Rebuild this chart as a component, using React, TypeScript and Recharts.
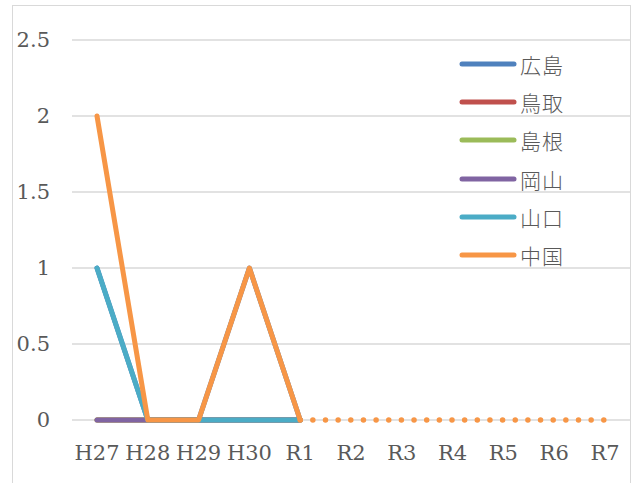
import React from 'react';
import { LineChart, Line, XAxis, YAxis, CartesianGrid } from 'recharts';

const years = ['H27', 'H28', 'H29', 'H30', 'R1', 'R2', 'R3', 'R4', 'R5', 'R6', 'R7'];

// actual values H27..R1, null afterwards
const hiroshima = [1, 0, 0, 1, 0, null, null, null, null, null, null];
const tottori = [0, 0, 0, 0, 0, null, null, null, null, null, null];
const shimane = [0, 0, 0, 0, 0, null, null, null, null, null, null];
const okayama = [0, 0, 0, 0, 0, null, null, null, null, null, null];
const yamaguchi = [1, 0, 0, 0, 0, null, null, null, null, null, null];
const chugoku = [2, 0, 0, 1, 0, null, null, null, null, null, null];
// projection for 中国 from R1 on (dotted)
const chugokuPlan = [null, null, null, null, 0, 0, 0, 0, 0, 0, 0];

const yTicks = [0, 0.5, 1, 1.5, 2, 2.5];

const series = [
  { key: 'hiroshima', name: '広島', color: '#4F81BD', values: hiroshima },
  { key: 'tottori', name: '鳥取', color: '#C0504D', values: tottori },
  { key: 'shimane', name: '島根', color: '#9BBB59', values: shimane },
  { key: 'okayama', name: '岡山', color: '#8064A2', values: okayama },
  { key: 'yamaguchi', name: '山口', color: '#4BACC6', values: yamaguchi },
  { key: 'chugoku', name: '中国', color: '#F79646', values: chugoku },
];

const data = years.map((y, i) => {
  const row: Record<string, any> = { year: y, chugokuPlan: chugokuPlan[i] };
  series.forEach(s => { row[s.key] = s.values[i]; });
  return row;
});

const serif = '"DejaVu Serif", serif';
const jp = '"Noto Sans CJK JP", sans-serif';

const LegendBox = () => (
  <div style={{ position: 'absolute', left: 459, top: 45 }}>
    {series.map(s => (
      <div key={s.key} style={{ display: 'flex', alignItems: 'center', height: 38.2 }}>
        <svg width={58} height={8} style={{ display: 'block' }}>
          <line x1={3} y1={4} x2={55} y2={4} stroke={s.color} strokeWidth={5} strokeLinecap="round" />
        </svg>
        <span style={{ fontFamily: jp, fontSize: 21, fontWeight: 300, color: '#595959', marginLeft: 3, lineHeight: '24px', letterSpacing: 1 }}>{s.name}</span>
      </div>
    ))}
  </div>
);

export default function App() {
  return (
    <div style={{ position: 'absolute', left: 0, top: 0, width: 635, height: 483, overflow: 'hidden', background: '#fff' }}>
      <div style={{ position: 'absolute', left: 12, top: 5, width: 619, height: 500, border: '1.5px solid #d9d9d9', boxSizing: 'border-box' }} />
      <div style={{ position: 'absolute', left: 0, top: 0 }}>
        <LineChart width={635} height={483} data={data} margin={{ top: 40, right: 5, bottom: 23, left: 12 }}>
          <CartesianGrid horizontal vertical={false} stroke="#d9d9d9" strokeWidth={1.5} />
          <XAxis
            dataKey="year"
            axisLine={false}
            tickLine={false}
            tickSize={0}
            tickMargin={25}
            height={40}
            interval={0}
            padding={{ left: 25, right: 25 }}
            tick={{ fontFamily: serif, fontSize: 21, fill: '#595959' }}
          />
          <YAxis
            domain={[0, 2.5]}
            ticks={yTicks}
            axisLine={false}
            tickLine={false}
            tickSize={0}
            tickMargin={22}
            width={60}
            tick={{ fontFamily: serif, fontSize: 21, fill: '#595959' }}
          />
          {series.map(s => (
            <Line
              key={s.key}
              dataKey={s.key}
              name={s.name}
              stroke={s.color}
              strokeWidth={5}
              strokeLinecap="round"
              strokeLinejoin="round"
              dot={false}
              activeDot={false}
              type="linear"
              isAnimationActive={false}
            />
          ))}
          <Line
            dataKey="chugokuPlan"
            legendType="none"
            stroke="#F79646"
            strokeWidth={5.5}
            strokeLinecap="round"
            strokeDasharray="0 12.65"
            dot={false}
            activeDot={false}
            type="linear"
            isAnimationActive={false}
          />
        </LineChart>
      </div>
      <LegendBox />
    </div>
  );
}
